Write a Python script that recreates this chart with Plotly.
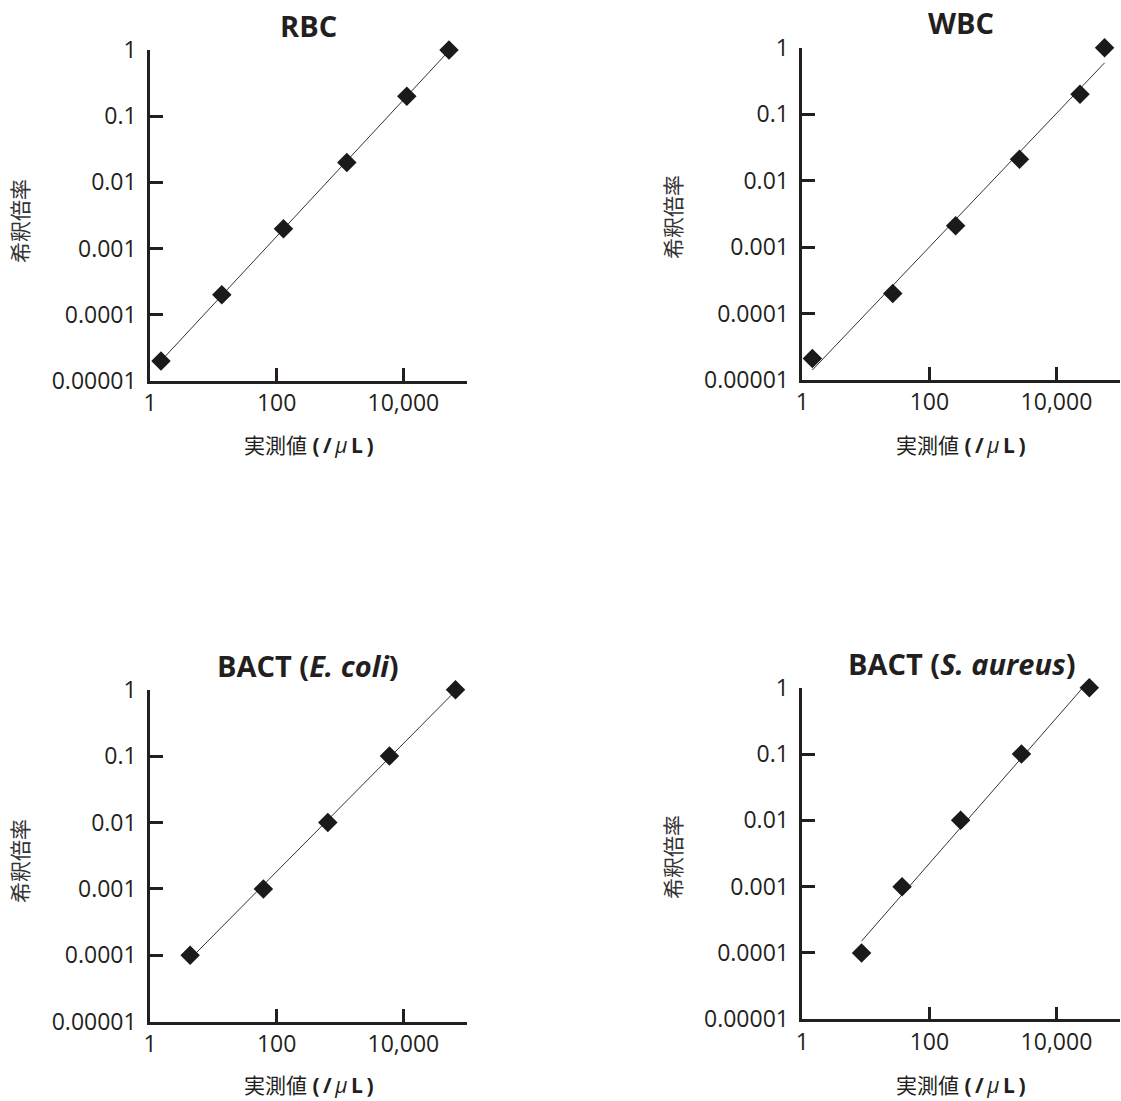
import numpy as np
import plotly.graph_objects as go

# ---------------- data ----------------
panel_titles = ["<b>RBC</b>", "<b>WBC</b>",
                "<b>BACT (<i>E. coli</i>)</b>", "<b>BACT (<i>S. aureus</i>)</b>"]

rbc_x = [1.49, 13.6, 128, 1280, 11350, 52500]
rbc_y = [2e-5, 2e-4, 2e-3, 0.02, 0.2, 1]

wbc_x = [1.44, 26.5, 259, 2617, 23450, 57150]
wbc_y = [2.1e-5, 2.0e-4, 2.1e-3, 0.021, 0.2, 1]

ecoli_x = [4.3, 61.7, 641, 6030, 66500]
ecoli_y = [1e-4, 1e-3, 0.01, 0.1, 1]

saureus_x = [8.56, 37.2, 310, 2810, 32860]
saureus_y = [1e-4, 1e-3, 0.01, 0.1, 1]

x_tickvals = [1, 100, 10000, 100000]
x_ticktext = ["1", "100", "10,000", ""]
y_tickvals = [1, 0.1, 0.01, 0.001, 0.0001, 0.00001]
y_ticktext = ["1", "0.1", "0.01", "0.001", "0.0001", "0.00001"]

x_title = ('実測値 <b>(</b>\u2009<b>/</b>\u2009<i>μ</i>\u2009<b>L</b>\u2009<b>)</b>')
y_title = "希釈倍率"

series = [(rbc_x, rbc_y), (wbc_x, wbc_y), (ecoli_x, ecoli_y), (saureus_x, saureus_y)]

# ---------------- layout geometry (pixels) ----------------
W, H = 1121, 1101
# (x0, x1, ytop, ybottom)
panels = [(150, 466.7, 50, 381), (802.3, 1120, 47.7, 380),
          (150, 466.7, 689.7, 1021.7), (802.3, 1120, 687.7, 1019.3)]
title_pos = [(308, 25), (961, 23), (308, 665), (961, 663)]
xtitle_pos = [(309, 445), (961, 445), (309, 1085), (961, 1085)]
ytitle_pos = [(20, 221), (673, 217), (20, 861), (673, 857)]

INK = "#231f20"
FONT = "Open Sans, Noto Sans CJK JP, sans-serif"

fig = go.Figure()
layout = dict(template="none", width=W, height=H, autosize=False,
              margin=dict(l=0, r=0, t=0, b=0, pad=0),
              paper_bgcolor="white", plot_bgcolor="white",
              showlegend=False, font=dict(family=FONT, color=INK))
annotations = []

for i, ((xs, ys), (x0, x1, yt, yb)) in enumerate(zip(series, panels)):
    k = "" if i == 0 else str(i + 1)
    xa, ya = "x" + k, "y" + k

    # regression line in log-log space
    lx, ly = np.log10(xs), np.log10(ys)
    m, c = np.polyfit(lx, ly, 1)
    fx = np.array([min(lx), max(lx)])
    fig.add_trace(go.Scatter(x=10 ** fx, y=10 ** (m * fx + c), mode="lines",
                             line=dict(color="#333333", width=1),
                             xaxis=xa, yaxis=ya, cliponaxis=False, hoverinfo="skip"))
    fig.add_trace(go.Scatter(x=xs, y=ys, mode="markers",
                             marker=dict(symbol="diamond", size=15, color="#1a1a1a",
                                         line=dict(width=0)),
                             xaxis=xa, yaxis=ya, cliponaxis=False))

    common = dict(showgrid=False, zeroline=False, showline=True, linecolor=INK,
                  linewidth=2.5, ticks="inside", ticklen=13, tickwidth=2.5,
                  tickcolor=INK, automargin=False,
                  tickfont=dict(size=23, color=INK, family=FONT, weight=500),
                  type="log")
    layout["xaxis" + k] = dict(common, domain=[x0 / W, x1 / W], range=[0, 5],
                               tickvals=x_tickvals, ticktext=x_ticktext,
                               anchor=ya, mirror=False, ticklabelstandoff=0)
    layout["yaxis" + k] = dict(common, domain=[1 - yb / H, 1 - yt / H], range=[-5, 0],
                               tickvals=y_tickvals, ticktext=y_ticktext,
                               anchor=xa, mirror=False, ticklabelstandoff=6)

    tx, ty = title_pos[i]
    annotations.append(dict(text=panel_titles[i], x=tx / W, y=1 - ty / H,
                            xref="paper", yref="paper", showarrow=False,
                            xanchor="center", yanchor="middle",
                            font=dict(size=29, color=INK, family=FONT)))
    tx, ty = xtitle_pos[i]
    annotations.append(dict(text=x_title, x=tx / W, y=1 - ty / H,
                            xref="paper", yref="paper", showarrow=False,
                            xanchor="center", yanchor="middle",
                            font=dict(size=21, color=INK, family=FONT)))
    tx, ty = ytitle_pos[i]
    annotations.append(dict(text=y_title, x=tx / W, y=1 - ty / H,
                            xref="paper", yref="paper", showarrow=False,
                            xanchor="center", yanchor="middle", textangle=-90,
                            font=dict(size=21, color="#333333", family=FONT)))

layout["annotations"] = annotations
fig.update_layout(**layout)
fig.write_html("out.html", config={"displayModeBar": False},
               post_script="document.body.style.margin='0px';"
                           "document.body.style.overflow='hidden';")
